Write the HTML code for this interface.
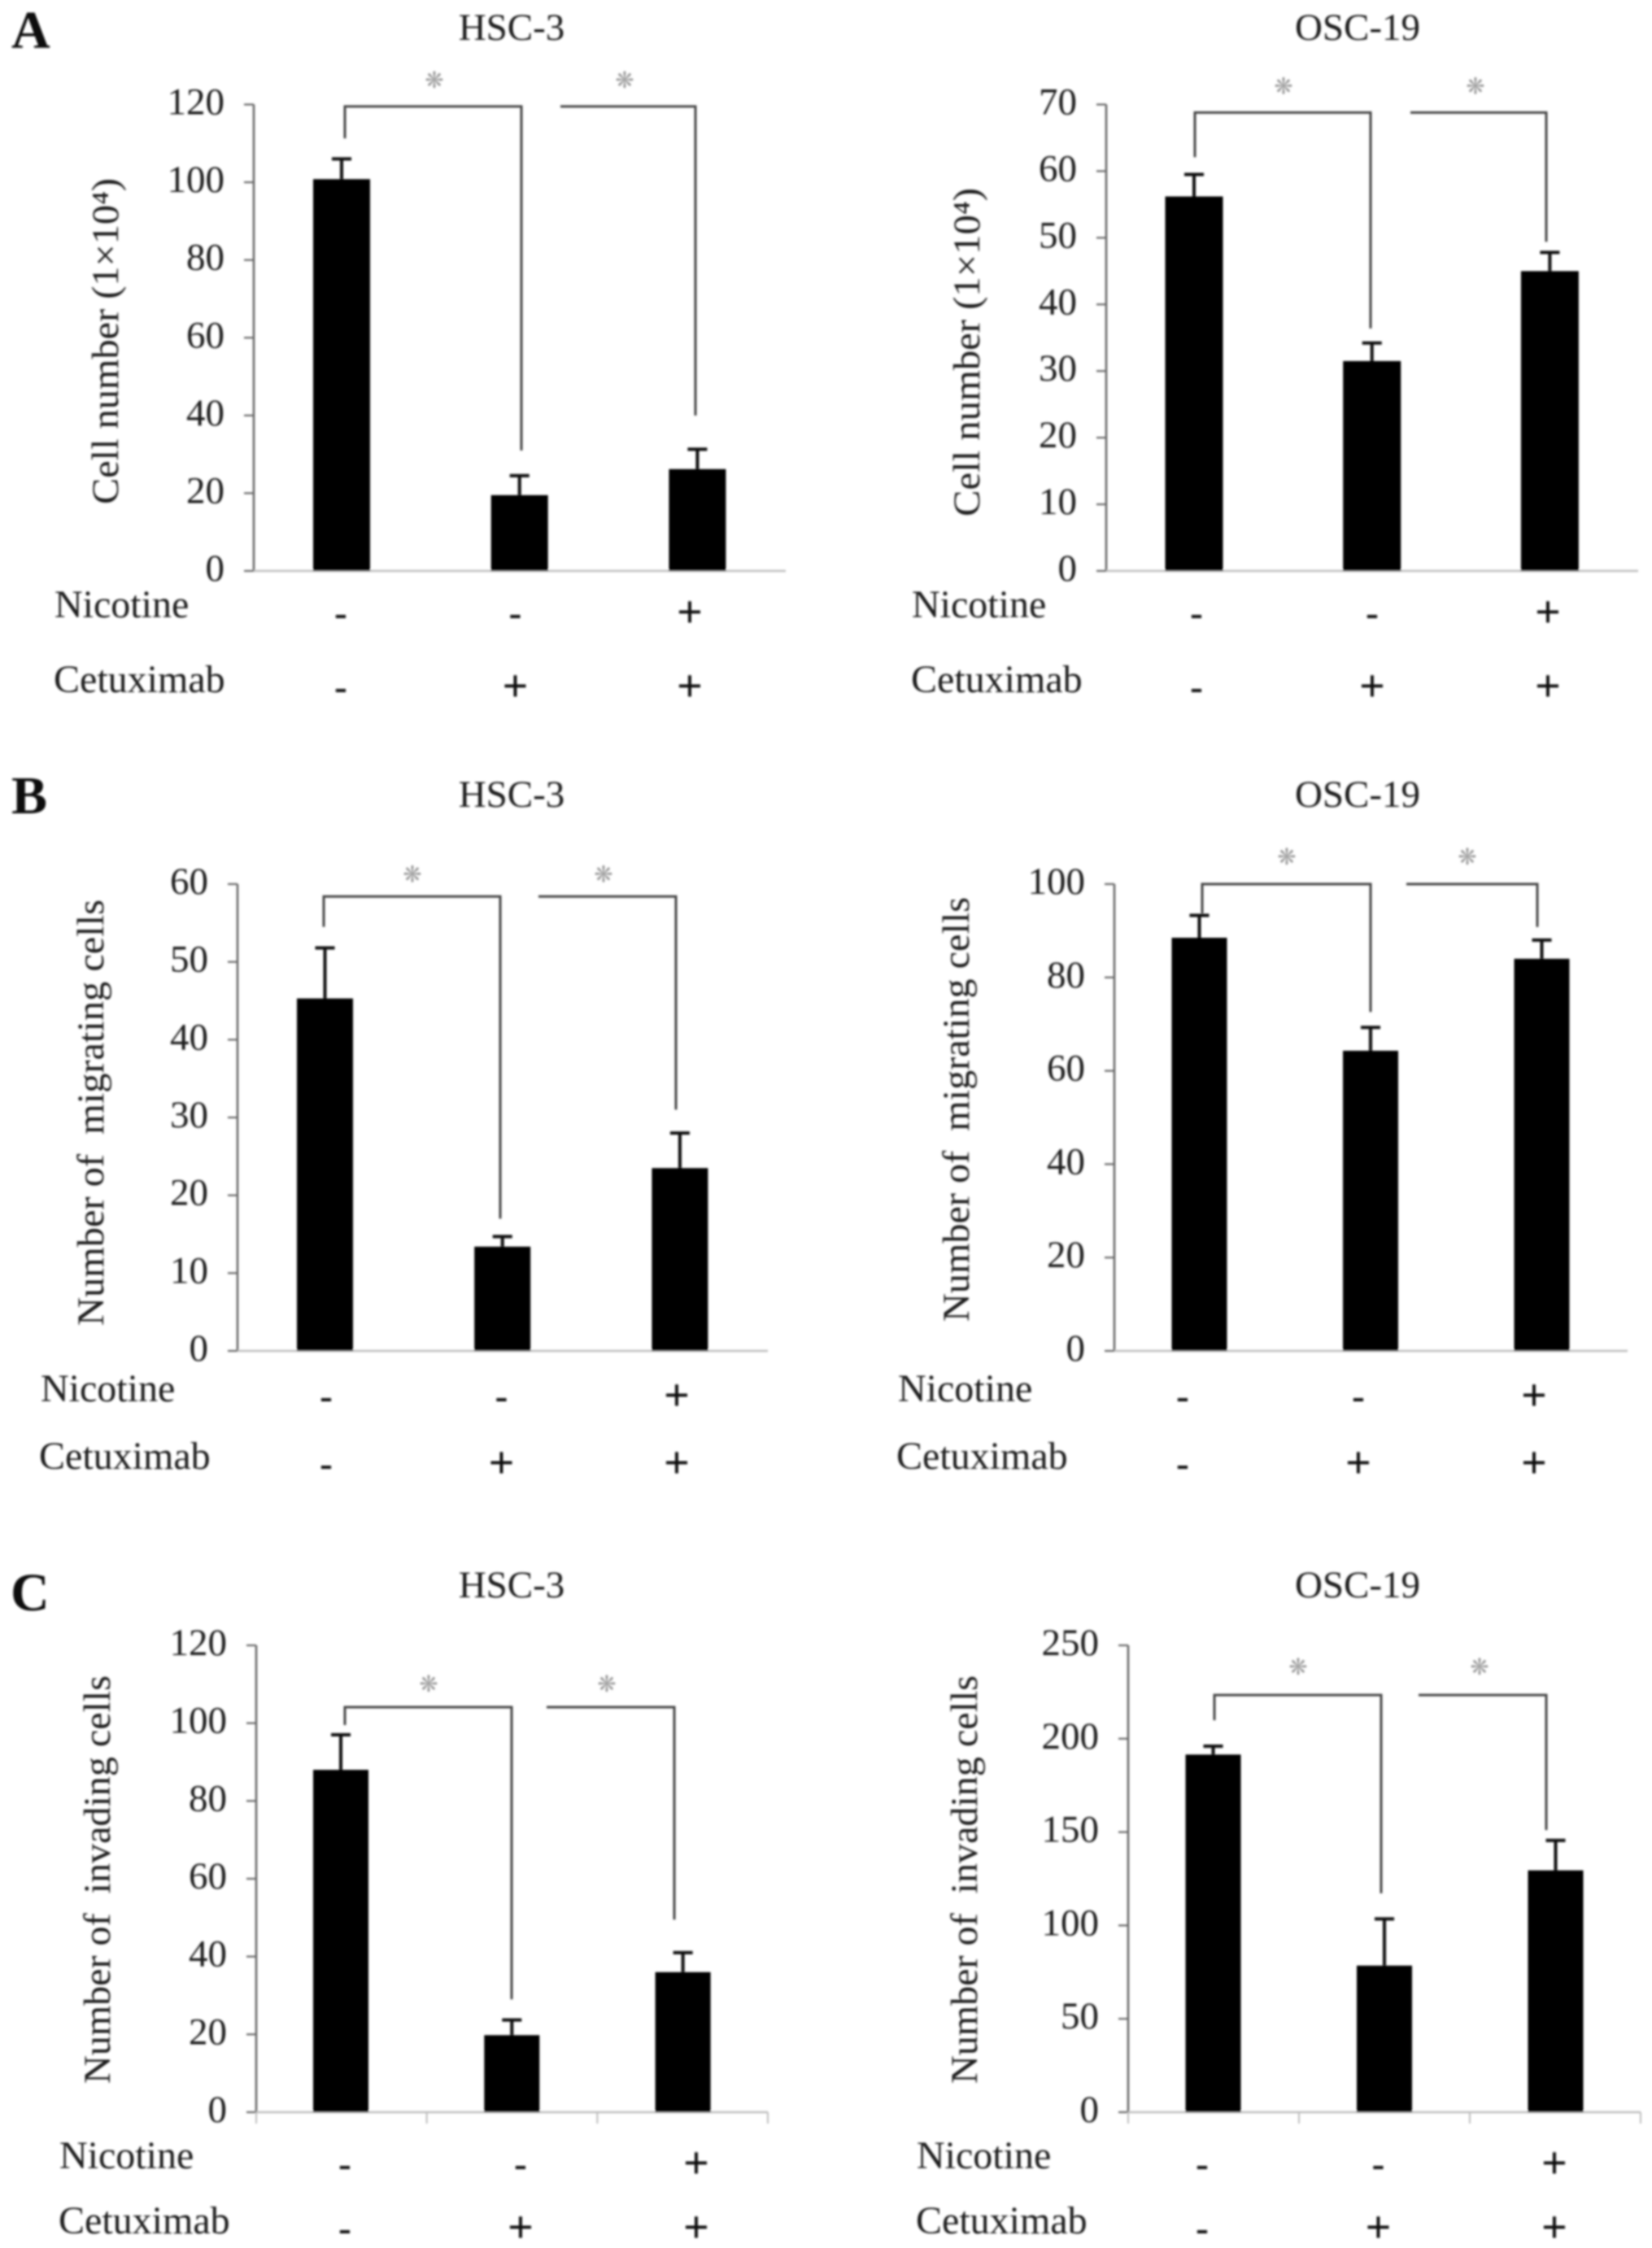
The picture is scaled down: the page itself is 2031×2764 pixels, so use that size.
<!DOCTYPE html>
<html>
<head>
<meta charset="utf-8">
<title>Cell number, migration and invasion bar charts</title>
<style>
html,body{margin:0;padding:0;background:#fff;}
svg{display:block;}
text{font-family:"Liberation Serif",serif;fill:#1a1a1a;}
.title,.label,.ylabel,.tick,.marker{font-size:47px;}
.label{font-size:48px;}
.ylabel{white-space:pre;}
.letter{font-size:66px;font-weight:bold;fill:#111;}
.marker{font-weight:bold;fill:#111;}
.marker.plus{font-size:56px;}
.star{font-family:"DejaVu Sans",sans-serif;font-size:28px;fill:#a0a0a0;}
</style>
</head>
<body>
<svg id="figure" xmlns="http://www.w3.org/2000/svg" width="2031" height="2764" viewBox="0 0 2031 2764">
<defs><filter id="soft" x="-1%" y="-1%" width="102%" height="102%"><feGaussianBlur stdDeviation="1.2"/></filter></defs>
<rect width="2031" height="2764" fill="#fff"/>
<g id="root" filter="url(#soft)" transform="translate(-3,-3)">
  <text class="letter" x="17" y="62">A</text>
  <text class="letter" x="17" y="1003">B</text>
  <text class="letter" x="16" y="1983">C</text>

  <text class="title" x="632" y="52" text-anchor="middle">HSC-3</text>
  <text class="title" x="1672" y="52" text-anchor="middle">OSC-19</text>
  <text class="title" x="632" y="995" text-anchor="middle">HSC-3</text>
  <text class="title" x="1672" y="995" text-anchor="middle">OSC-19</text>
  <text class="title" x="632" y="1967" text-anchor="middle">HSC-3</text>
  <text class="title" x="1672" y="1967" text-anchor="middle">OSC-19</text>

  <text class="ylabel" transform="translate(148,623) rotate(-90)" textLength="401" lengthAdjust="spacingAndGlyphs">Cell number (1×10⁴)</text>
  <text class="ylabel" transform="translate(1207,638) rotate(-90)" textLength="404" lengthAdjust="spacingAndGlyphs">Cell number (1×10⁴)</text>
  <text class="ylabel" transform="translate(130,1633) rotate(-90)" textLength="524" lengthAdjust="spacingAndGlyphs">Number of  migrating cells</text>
  <text class="ylabel" transform="translate(1194,1628) rotate(-90)" textLength="522" lengthAdjust="spacingAndGlyphs">Number of  migrating cells</text>
  <text class="ylabel" transform="translate(138,2565) rotate(-90)" textLength="502" lengthAdjust="spacingAndGlyphs">Number of  invading cells</text>
  <text class="ylabel" transform="translate(1204,2565) rotate(-90)" textLength="502" lengthAdjust="spacingAndGlyphs">Number of  invading cells</text>

  <text class="label" x="70" y="762">Nicotine</text>
  <text class="label" x="69" y="854">Cetuximab</text>
  <text class="label" x="1124" y="762">Nicotine</text>
  <text class="label" x="1123" y="854">Cetuximab</text>
  <text class="label" x="53" y="1726">Nicotine</text>
  <text class="label" x="51" y="1809">Cetuximab</text>
  <text class="label" x="1107" y="1726">Nicotine</text>
  <text class="label" x="1105" y="1809">Cetuximab</text>
  <text class="label" x="76" y="2669">Nicotine</text>
  <text class="label" x="75" y="2749">Cetuximab</text>
  <text class="label" x="1130" y="2669">Nicotine</text>
  <text class="label" x="1129" y="2749">Cetuximab</text>
</g>
</svg>
<script>
// Treatment categories (shared by every panel)
const nicotine = ['-', '-', '+'];
const cetuximab = ['-', '+', '+'];

// Y-axis tick labels
const ticksA1 = [0, 20, 40, 60, 80, 100, 120];
const ticksA2 = [0, 10, 20, 30, 40, 50, 60, 70];
const ticksB1 = [0, 10, 20, 30, 40, 50, 60];
const ticksB2 = [0, 20, 40, 60, 80, 100];
const ticksC1 = [0, 20, 40, 60, 80, 100, 120];
const ticksC2 = [0, 50, 100, 150, 200, 250];

// Bar means
const valuesA1 = [100.8, 19.5, 26.2];
const valuesA2 = [56.2, 31.5, 45];
const valuesB1 = [45.3, 13.4, 23.5];
const valuesB2 = [88.5, 64.3, 84];
const valuesC1 = [88, 19.8, 36];
const valuesC2 = [191.5, 78.5, 129.5];

// Upper error-bar limits
const errorTopsA1 = [106, 24.5, 31.3];
const errorTopsA2 = [59.5, 34.2, 47.8];
const errorTopsB1 = [51.8, 14.7, 28];
const errorTopsB2 = [93.3, 69.3, 88];
const errorTopsC1 = [97, 23.7, 41];
const errorTopsC2 = [196, 103.5, 145.5];

// Significance bracket heights, axis units: [level, left end, middle end, right end]
const bracketA1 = [119.5, 111.3, 31, 40];
const bracketA2 = [68.8, 62.1, 36.4, 49.4];
const bracketB1 = [58.4, 54.5, 17, 31];
const bracketB2 = [100, 93.7, 72.6, 90.8];
const bracketC1 = [104.1, 99.5, 29, 49.5];
const bracketC2 = [223.4, 209.9, 117.2, 151.1];

const NS = 'http://www.w3.org/2000/svg';
const root = document.getElementById('root');

function mk(tag, attrs, parent) {
  const n = document.createElementNS(NS, tag);
  for (const k in attrs) n.setAttribute(k, attrs[k]);
  parent.appendChild(n);
  return n;
}

function markerAttrs(s, x, row) {
  return {class: s === '+' ? 'marker plus' : 'marker', x: x, y: row + (s === '+' ? 17 : 15), 'text-anchor': 'middle'};
}

function drawPanel(p) {
  const g = mk('g', {}, root);
  
  

  const domainMax = p.ticks[p.ticks.length - 1];
  const yScale = v => p.y0 - (v / domainMax) * p.h;
  const barX = i => p.barX0 + i * p.barStep;
  const markX = i => p.markX0 + i * p.markStep;
  let el;

  // Axes
  el = mk('line', {x1: p.axisX, x2: p.axisX, y1: yScale(domainMax), y2: p.y0, stroke: '#666', 'stroke-width': 2.6}, g);
  
  

  el = mk('line', {x1: p.axisX, x2: p.xEnd, y1: p.y0, y2: p.y0, stroke: '#bdbdbd', 'stroke-width': 2.4}, g);
  
  

  // Y ticks
  p.ticks.forEach(t => {
    const y = yScale(t);
    const tm = mk('line', {x1: p.axisX - 12, x2: p.axisX, y1: y, y2: y, stroke: '#666', 'stroke-width': 2.2}, g);
    
    

    const tl = mk('text', {class: 'tick', x: p.axisX - 36, y: y + 12, 'text-anchor': 'end'}, g);
    
    
    tl.textContent = t;
  });

  // Category separator ticks (only the panel C charts have them)
  if (p.xTicks) {
    for (let i = 0; i <= 3; i++) {
      const x = p.axisX + i * (p.xEnd - p.axisX) / 3;
      const xt = mk('line', {x1: x, x2: x, y1: p.y0, y2: p.y0 + 14, stroke: '#bdbdbd', 'stroke-width': 2}, g);
      
      
    }
  }

  // Bars and error bars
  p.values.forEach((v, i) => {
    const cx = barX(i);
    const top = yScale(v);
    const bar = mk('rect', {x: cx - p.barW / 2, y: top, width: p.barW, height: p.y0 - top, fill: '#000'}, g);
    
    

    const errY = yScale(p.errorTops[i]);
    const stem = mk('line', {x1: cx, x2: cx, y1: top, y2: errY, stroke: '#111', 'stroke-width': 4}, g);
    
    

    const cap = mk('line', {x1: cx - 12, x2: cx + 12, y1: errY, y2: errY, stroke: '#111', 'stroke-width': 4}, g);
    
    
  });

  // Significance brackets
  const level = yScale(p.bracket[0]);
  const d1 = `M${p.brX[0]} ${yScale(p.bracket[1])}V${level}H${p.brX[1]}V${yScale(p.bracket[2])}`;
  const d2 = `M${p.brX[2]} ${level}H${p.brX[3]}V${yScale(p.bracket[3])}`;
  el = mk('path', {d: d1, fill: 'none', stroke: '#444', 'stroke-width': 3}, g);
  
  

  el = mk('path', {d: d2, fill: 'none', stroke: '#444', 'stroke-width': 3}, g);
  
  

  p.starX.forEach((sx, i) => {
    const st = mk('text', {class: 'star', x: sx, y: level - p.starGap + 10, 'text-anchor': 'middle'}, g);
    
    
    st.textContent = '❋';
  });

  // Treatment +/- rows
  nicotine.forEach((s, i) => {
    const m = mk('text', markerAttrs(s, markX(i), p.rowN), g);
    
    
    m.textContent = s;
  });
  cetuximab.forEach((s, i) => {
    const m = mk('text', markerAttrs(s, markX(i), p.rowC), g);
    
    
    m.textContent = s;
  });
}

drawPanel({id: 'a-hsc3', ticks: ticksA1, values: valuesA1, errorTops: errorTopsA1, bracket: bracketA1,
  axisX: 315, xEnd: 969, y0: 705, h: 573.5, barX0: 423, barStep: 218.7, barW: 70,
  brX: [427, 644, 692, 858], starX: [537, 771], starGap: 33, markX0: 422, markStep: 214.5, rowN: 757, rowC: 848});
drawPanel({id: 'a-osc19', ticks: ticksA2, values: valuesA2, errorTops: errorTopsA2, bracket: bracketA2,
  axisX: 1363, xEnd: 2017, y0: 705, h: 573.5, barX0: 1471, barStep: 218.7, barW: 71,
  brX: [1472, 1688, 1737, 1904], starX: [1581, 1817], starGap: 33, markX0: 1474, markStep: 216, rowN: 757, rowC: 848});
drawPanel({id: 'b-hsc3', ticks: ticksB1, values: valuesB1, errorTops: errorTopsB1, bracket: bracketB1,
  axisX: 295, xEnd: 947, y0: 1664, h: 574, barX0: 402.5, barStep: 218.2, barW: 69,
  brX: [401, 618, 665, 834], starX: [510, 745], starGap: 28, markX0: 404, markStep: 215.5, rowN: 1720, rowC: 1803});
drawPanel({id: 'b-osc19', ticks: ticksB2, values: valuesB2, errorTops: errorTopsB2, bracket: bracketB2,
  axisX: 1373, xEnd: 2004, y0: 1664, h: 574, barX0: 1477.5, barStep: 210.5, barW: 68,
  brX: [1481, 1688, 1732, 1893], starX: [1585, 1807], starGap: 34, markX0: 1457, markStep: 216, rowN: 1720, rowC: 1803});
drawPanel({id: 'c-hsc3', ticks: ticksC1, values: valuesC1, errorTops: errorTopsC1, bracket: bracketC1,
  axisX: 318, xEnd: 947, y0: 2600, h: 574, barX0: 422, barStep: 210.3, barW: 68, xTicks: true,
  brX: [427, 632, 675, 832], starX: [530, 749], starGap: 29, markX0: 427, markStep: 216, rowN: 2664, rowC: 2743});
drawPanel({id: 'c-osc19', ticks: ticksC2, values: valuesC2, errorTops: errorTopsC2, bracket: bracketC2,
  axisX: 1390, xEnd: 2020, y0: 2600, h: 574, barX0: 1494.5, barStep: 210.5, barW: 68, xTicks: true,
  brX: [1496, 1701, 1747, 1904], starX: [1599, 1822], starGap: 35, markX0: 1481, markStep: 216.5, rowN: 2664, rowC: 2743});
</script>
</body>
</html>
